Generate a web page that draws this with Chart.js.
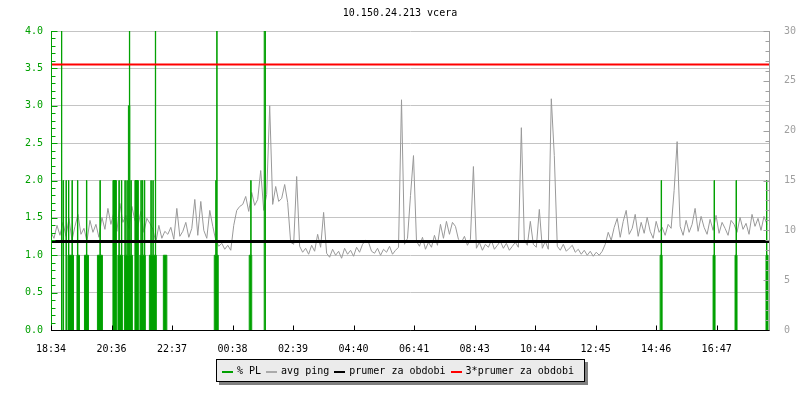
<!DOCTYPE html>
<html><head><meta charset="utf-8">
<script src="https://cdn.jsdelivr.net/npm/chart.js@4"></script>
<style>
html,body{margin:0;padding:0;background:#fff;}
#wrap{position:relative;width:800px;height:400px;}
#c{position:absolute;left:0;top:0;}
#legend{position:absolute;left:216px;top:359px;width:362px;height:21px;border:1px solid #000;background:#ebebeb;box-shadow:3px 3px 0 #808080;display:flex;align-items:center;padding-left:5px;box-sizing:content-box;}
#legend span.t{font:10px 'DejaVu Sans Mono',monospace;line-height:12px;color:#000;white-space:pre;margin-right:5px;}
#legend span.s{display:inline-block;width:11px;height:2px;margin-right:4px;margin-top:2px;}
</style></head><body>
<div id="wrap"><canvas id="c" width="800" height="400"></canvas><div id="legend"></div></div>
<script>
const chartTitle = '10.150.24.213 vcera';
const timeLabels = ['18:34','20:36','22:37','00:38','02:39','04:40','06:41','08:43','10:44','12:45','14:46','16:47'];
const spanMinutes = 1440;
const labelStepMinutes = 121.2;
const pingStepMinutes = 6;
const pingMs = [
  9.8, 9.2, 10.5, 9.5,
  10.8, 9.4, 11.2, 9.0, 10.4, 11.6, 9.6, 10.2, 8.9, 11.0, 9.8, 10.6, 9.3,
  11.3, 10.1, 12.2, 10.6, 11.8, 9.9, 12.7, 10.8, 11.5, 10.2, 12.4, 11.0, 10.4, 11.9, 9.8, 11.2, 10.7,
  10.1, 8.8, 10.5, 9.2, 9.9,
  9.6, 10.3, 9.1, 12.2, 9.4, 9.9, 10.8, 9.3, 10.2, 13.1, 9.5, 12.9, 10.0, 9.2, 12.0, 10.4,
  9.0, 8.4, 8.7, 8.1, 8.5, 8.0,
  10.5, 12.0, 12.4,
  12.6, 13.4, 11.9, 13.8, 12.5, 13.1, 16.0, 12.0, 13.6, 22.5, 12.6, 14.4, 12.9,
  13.2, 14.6, 12.8,
  8.8, 8.6, 15.4,
  8.4, 7.8, 8.2, 7.6, 8.5, 7.9, 9.6, 8.3, 11.8, 7.7, 7.3, 8.1, 7.5, 7.9, 7.2, 8.2, 7.6, 8.0, 7.4, 8.3, 7.8, 8.6, 9.0, 8.8, 7.9, 7.7, 8.2, 7.5, 8.1, 7.8, 8.4, 7.6, 8.0,
  8.3, 23.1, 8.6,
  9.2, 13.5, 17.5,
  8.9, 8.4, 9.3, 8.1, 8.8, 8.3, 9.5, 8.5,
  10.6, 9.2, 10.9, 9.6, 10.8, 10.4, 9.1,
  8.8, 9.4, 8.5, 9.1, 16.4,
  8.2, 8.8, 8.0, 8.6, 8.3, 9.0, 8.1, 8.5, 8.9, 8.2, 8.7, 8.0, 8.4, 8.8, 8.3, 20.3,
  9.0, 8.5, 10.9, 8.6, 8.3, 12.1, 8.2, 8.9, 8.1, 23.2, 17.5,
  8.4, 8.0, 8.6, 7.9, 8.2, 8.5, 7.8, 8.1, 7.6, 8.0, 7.5, 7.9, 7.4, 7.8, 7.5, 7.9,
  8.6, 9.8, 9.0, 10.3, 11.2, 9.3, 10.9, 12.0, 9.6, 10.2, 11.6, 9.4, 10.8, 9.7, 11.3, 9.9, 9.2,
  10.9, 9.8, 10.3, 9.5, 10.6, 10.2, 14.0, 18.9,
  10.4, 9.5, 11.0, 9.8, 10.6, 12.2, 9.9, 11.4, 10.3, 9.6, 11.1, 10.0, 11.5, 9.7, 10.8, 10.2, 9.5, 11.0, 10.6, 9.8, 11.3, 10.1, 10.7, 9.6, 11.6, 10.4, 11.2, 10.0, 11.4, 10.6
];
// packet loss: value holds from its time (minutes after start) until the next entry
const plTime = [21,21.6, 24,25.2, 30,30.8, 34,35,35.8,42,42.8,45, 52,53,53.8,57, 67,71,71.8,75, 93,98,98.8,103,
  124,131, 134,136,136.8,141,141.8,143, 147,148,148.8,152,152.8,155,157,157.6,158,160,160.8,163, 168,175,
  178,180,180.8,183,183.8,187,187.8,189, 197,200,200.8,204,204.8,209,209.6,211, 225,232,
  327,330,330.8,332,332.6,335, 397,400,400.8,402, 427,429.5,
  1220,1222,1222.8,1224, 1326,1328,1328.8,1330, 1370,1372,1372.8,1374, 1432,1433,1433.8,1436];
const plValue = [4,0, 2,0, 2,0, 1,2,1,2,1,0, 1,2,1,0, 1,2,1,0, 1,2,1,0,
  2,0, 1,2,1,2,1,0, 1,2,1,2,1,3,4,3,1,2,1,0, 2,0,
  1,2,1,2,1,2,1,0, 1,2,1,2,1,4,1,0, 1,0,
  1,2,1,4,1,0, 1,2,1,0, 4,0,
  1,2,1,0, 1,2,1,0, 1,2,1,0, 1,2,1,0];
const avgPingMs = 8.88;
const legendLabels = ['% PL','avg ping','prumer za obdobi','3*prumer za obdobi'];

const GREEN = '#00a000', PING = '#999999', GRID = '#c4c4c4', RIGHT = '#a0a0a0';
const legendColors = [GREEN, '#aaaaaa', '#000000', '#ff0000'];

Chart.defaults.font.family = "'DejaVu Sans Mono', monospace";
Chart.defaults.font.size = 10;
Chart.defaults.color = '#000';

const pingData = pingMs.map((v, i) => ({x: i * pingStepMinutes, y: v}));
const plData = [];
plTime.forEach((t, i) => {
  if (i === 0 || plValue[i - 1] === 0) plData.push({x: t, y: 0});
  plData.push({x: t, y: plValue[i]});
});

const axisPlugin = {
  id: 'rrdAxes',
  afterDatasetsDraw(chart) {
    const {ctx, chartArea: a, scales} = chart;
    const x = scales.x, yL = scales.yL, yR = scales.yR;
    const L = Math.round(a.left) + 0.5, R = Math.round(a.right) - 0.5, B = Math.round(a.bottom) + 0.5, T = Math.round(a.top);
    ctx.save();
    ctx.lineWidth = 1;
    ctx.strokeStyle = GREEN; ctx.beginPath();
    ctx.moveTo(L, T); ctx.lineTo(L, B);
    for (let k = 0; k <= 40; k++) {
      const py = Math.round(yL.getPixelForValue(k * (yL.max - yL.min) / 40)) + 0.5;
      const len = k % 5 === 0 ? 6 : 4;
      ctx.moveTo(L, py); ctx.lineTo(L + len, py);
    }
    ctx.stroke();
    ctx.strokeStyle = RIGHT; ctx.beginPath();
    ctx.moveTo(R, T); ctx.lineTo(R, B);
    for (let k = 0; k <= 30; k++) {
      const py = Math.round(yR.getPixelForValue(k * (yR.max - yR.min) / 30)) + 0.5;
      const len = k % 5 === 0 ? 6 : 4;
      ctx.moveTo(R, py); ctx.lineTo(R - len, py);
    }
    ctx.stroke();
    ctx.strokeStyle = '#000'; ctx.beginPath();
    ctx.moveTo(L - 0.5, B); ctx.lineTo(R, B);
    x.ticks.forEach(t => {
      const px = Math.round(x.getPixelForValue(t.value)) + 0.5;
      ctx.moveTo(px, B); ctx.lineTo(px, B - 5);
    });
    ctx.stroke();
    ctx.restore();
  }
};

new Chart(document.getElementById('c'), {
  type: 'line',
  data: {datasets: [
    {label: legendLabels[3], data: [{x: 0, y: 3 * avgPingMs}, {x: spanMinutes, y: 3 * avgPingMs}], yAxisID: 'yR',
     borderColor: '#ff0000', borderWidth: 2, pointRadius: 0, order: 0},
    {label: legendLabels[2], data: [{x: 0, y: avgPingMs}, {x: spanMinutes, y: avgPingMs}], yAxisID: 'yR',
     borderColor: '#000000', borderWidth: 3, pointRadius: 0, order: 1},
    {label: legendLabels[0], data: plData, yAxisID: 'yL', stepped: true, borderWidth: 1, borderColor: GREEN,
     backgroundColor: GREEN, fill: 'origin', pointRadius: 0, order: 2,
     segment: {borderColor: c => (c.p0.parsed.y === 0 && c.p1.parsed.y === 0) ? 'rgba(0,0,0,0)' : GREEN}},
    {label: legendLabels[1], data: pingData, yAxisID: 'yR', borderWidth: 1, borderColor: PING,
     pointRadius: 0, tension: 0, order: 3}
  ]},
  options: {
    responsive: false, animation: false,
    layout: {padding: 0},
    plugins: {
      legend: {display: false}, tooltip: {enabled: false},
      title: {display: true, text: chartTitle, color: '#000', font: {size: 10, weight: 'normal'}, padding: {top: 7, bottom: 12}}
    },
    scales: {
      x: {type: 'linear', min: 0, max: spanMinutes,
          afterBuildTicks: s => { s.ticks = timeLabels.map((l, i) => ({value: i * labelStepMinutes})); },
          ticks: {autoSkip: false, maxRotation: 0, padding: 5, color: '#000', callback: (v, i) => timeLabels[i]},
          grid: {display: false}, border: {display: false},
          afterFit: s => { s.height = 70; }},
      yL: {position: 'left', min: 0, max: 4,
           ticks: {stepSize: 0.5, color: GREEN, padding: 8, callback: v => Number(v).toFixed(1)},
           grid: {color: GRID, drawTicks: false}, border: {display: false},
           afterFit: s => { s.width = 51; }},
      yR: {position: 'right', min: 0, max: 30,
           ticks: {stepSize: 5, color: RIGHT, padding: 6},
           grid: {display: false, drawOnChartArea: false}, border: {display: false},
           afterFit: s => { s.width = 30; }}
    }
  },
  plugins: [axisPlugin]
});

const lg = document.getElementById('legend');
legendLabels.forEach((l, i) => {
  const s = document.createElement('span'); s.className = 's'; s.style.background = legendColors[i];
  const t = document.createElement('span'); t.className = 't'; t.textContent = l;
  lg.appendChild(s); lg.appendChild(t);
});
</script>
</body></html>
